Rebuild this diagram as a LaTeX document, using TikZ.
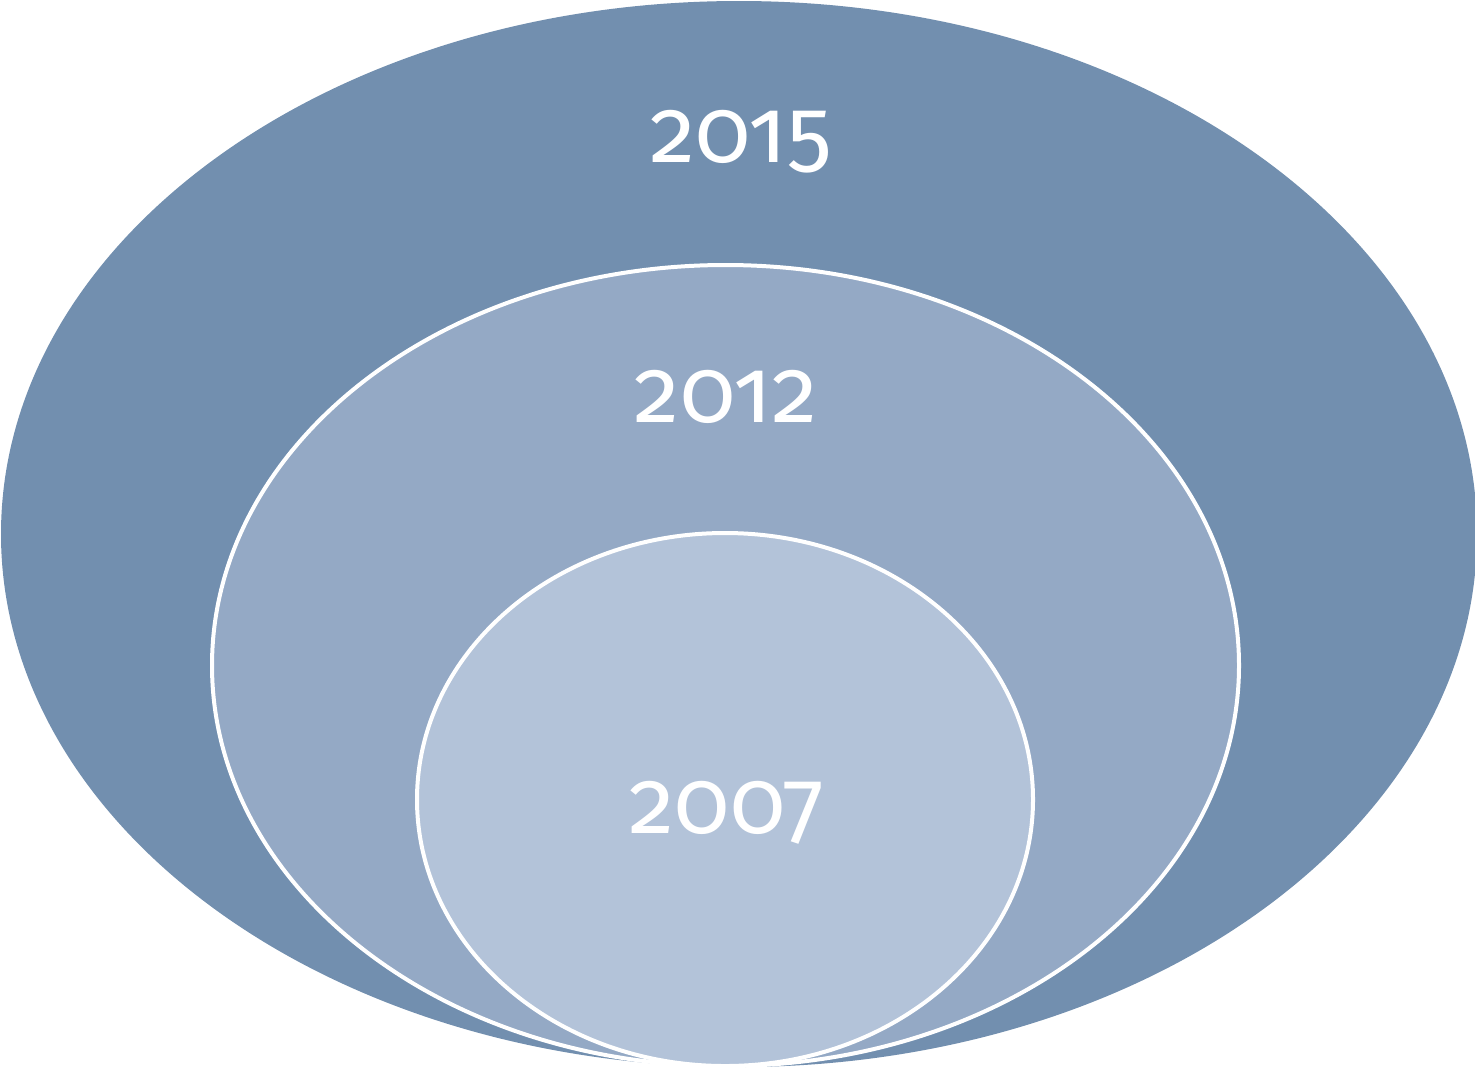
\documentclass[tikz,border=0pt]{standalone}
\usepackage{fontspec}
\setmainfont{Fira Sans}[Numbers=OldStyle]
\definecolor{outerc}{HTML}{728FAF}
\definecolor{midc}{HTML}{94A9C5}
\definecolor{innerc}{HTML}{B3C3D9}
\begin{document}
\begin{tikzpicture}[x=0.5pt,y=-0.5pt,
  ring/.style={draw=white,line width=2pt},
  year/.style={text=white,font=\fontsize{45.5}{48}\selectfont,anchor=base,inner sep=0pt}]
\useasboundingbox (0,0) rectangle (1475,1067);
\clip (0,0) rectangle (1475,1067);
\fill[outerc] (739,534) ellipse [x radius=369pt, y radius=266.5pt];
\filldraw[midc,ring] (725.5,665.5) ellipse [x radius=256.75pt, y radius=200.25pt];
\filldraw[innerc,ring] (725,799.5) ellipse [x radius=154pt, y radius=133.25pt];
\node[year] (y15) at (741,162) {2015};
\node[year] (y12) at (726,422) {2012};
\node[year] (y07) at (727,833) {2007};
\end{tikzpicture}
\end{document}
